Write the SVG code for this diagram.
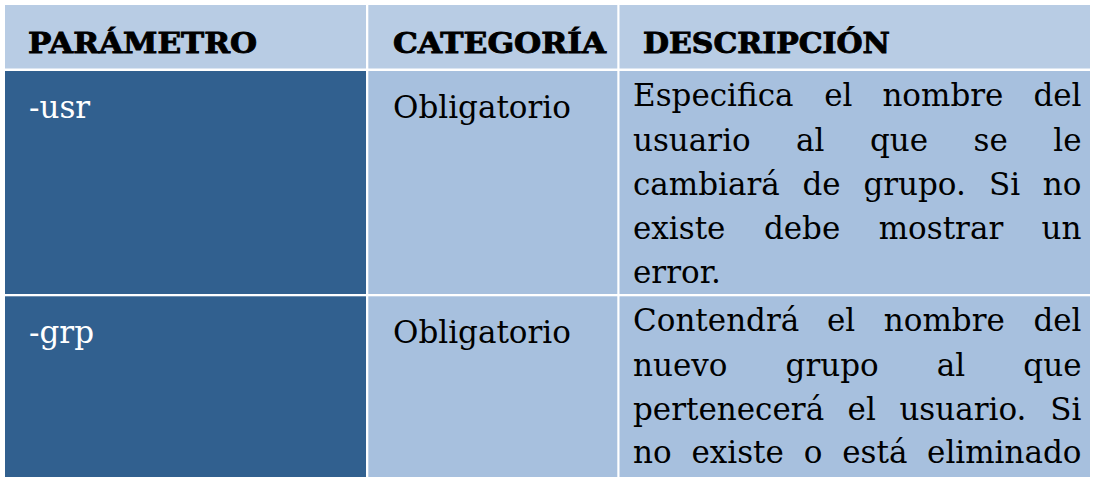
<svg xmlns="http://www.w3.org/2000/svg" width="1096" height="477" viewBox="0 0 1096 477">
<style>
.hdr{fill:#B8CCE4}
.dark{fill:#31608F}
.light{fill:#A7C0DE}
.h{font-family:"DejaVu Serif","Liberation Serif",serif;font-weight:bold;font-size:28px;fill:#000;stroke:#000;stroke-width:0.9}
.b{font-family:"DejaVu Serif","Liberation Serif",serif;font-size:31px;fill:#000}
.w{fill:#fff}
.e{text-anchor:end}
</style>
<rect x="0" y="0" width="1096" height="477" fill="#fff"/>
<g id="header">
  <g id="h-param">
    <rect class="hdr" x="5" y="5" width="361" height="63.5"/>
    <text class="h" x="28" y="53" textLength="229" lengthAdjust="spacingAndGlyphs">PARÁMETRO</text>
  </g>
  <g id="h-cat">
    <rect class="hdr" x="368.3" y="5" width="249" height="63.5"/>
    <text class="h" x="393" y="53" textLength="213" lengthAdjust="spacingAndGlyphs">CATEGORÍA</text>
  </g>
  <g id="h-desc">
    <rect class="hdr" x="619.5" y="5" width="470.5" height="63.5"/>
    <text class="h" x="643" y="53" textLength="247" lengthAdjust="spacingAndGlyphs">DESCRIPCIÓN</text>
  </g>
</g>
<g id="row-usr">
  <g id="usr-param">
    <rect class="dark" x="5" y="71" width="361" height="223"/>
    <text class="b w" x="29" y="118">-usr</text>
  </g>
  <g id="usr-cat">
    <rect class="light" x="368.3" y="71" width="249" height="223"/>
    <text class="b" x="393" y="118">Obligatorio</text>
  </g>
  <g id="usr-desc">
    <rect class="light" x="619.5" y="71" width="470.5" height="223"/>
    <text class="b" y="106"><tspan x="633">Especifica</tspan><tspan x="824.2">el</tspan><tspan x="882.4">nombre</tspan></text>
    <text class="b e" x="1081.5" y="106">del</text>
    <text class="b" y="150.5"><tspan x="633">usuario</tspan><tspan x="796.1">al</tspan><tspan x="869.9">que</tspan><tspan x="973.5">se</tspan></text>
    <text class="b e" x="1081.5" y="150.5">le</text>
    <text class="b" y="195"><tspan x="633">cambiará</tspan><tspan x="802.5">de</tspan><tspan x="863.4">grupo.</tspan><tspan x="989.1">Si</tspan></text>
    <text class="b e" x="1081.5" y="195">no</text>
    <text class="b" y="239"><tspan x="633">existe</tspan><tspan x="763.9">debe</tspan><tspan x="878.7">mostrar</tspan></text>
    <text class="b e" x="1081.5" y="239">un</text>
    <text class="b" x="633" y="283">error.</text>
  </g>
</g>
<g id="row-grp">
  <g id="grp-param">
    <rect class="dark" x="5" y="296.3" width="361" height="181"/>
    <text class="b w" x="29" y="343">-grp</text>
  </g>
  <g id="grp-cat">
    <rect class="light" x="368.3" y="296.3" width="249" height="181"/>
    <text class="b" x="393" y="343">Obligatorio</text>
  </g>
  <g id="grp-desc">
    <rect class="light" x="619.5" y="296.3" width="470.5" height="181"/>
    <text class="b" y="331"><tspan x="633">Contendrá</tspan><tspan x="826.9">el</tspan><tspan x="883.8">nombre</tspan></text>
    <text class="b e" x="1081.5" y="331">del</text>
    <text class="b" y="376"><tspan x="633">nuevo</tspan><tspan x="785.6">grupo</tspan><tspan x="936.8">al</tspan></text>
    <text class="b e" x="1081.5" y="376">que</text>
    <text class="b" y="420"><tspan x="633">pertenecerá</tspan><tspan x="847.6">el</tspan><tspan x="899.4">usuario.</tspan></text>
    <text class="b e" x="1081.5" y="420">Si</text>
    <text class="b" y="463"><tspan x="633">no</tspan><tspan x="691.4">existe</tspan><tspan x="803.7">o</tspan><tspan x="842.2">está</tspan></text>
    <text class="b e" x="1081.5" y="463">eliminado</text>
  </g>
</g>
</svg>
